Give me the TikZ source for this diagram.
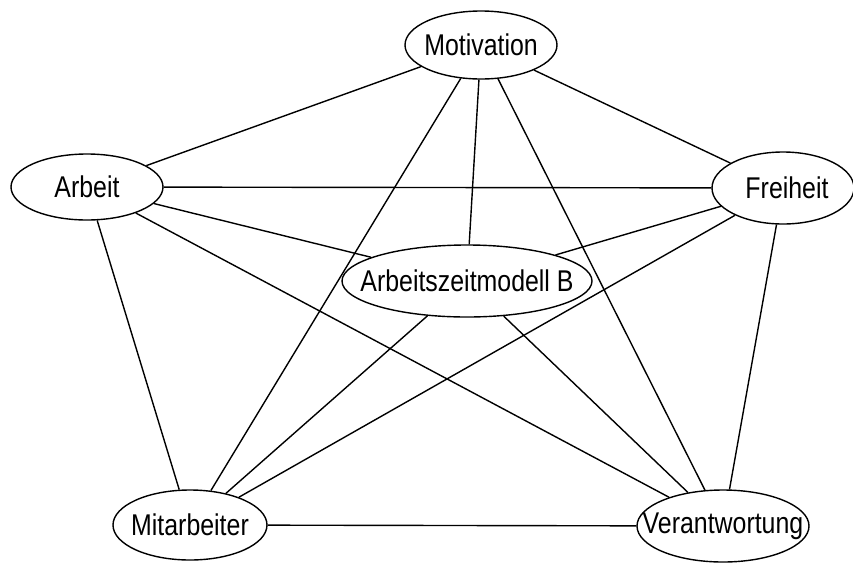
\documentclass[tikz,border=0pt]{standalone}
\usepackage{fontspec}
\setmainfont{Liberation Sans}[FakeStretch=0.83]
\usetikzlibrary{shapes.geometric}
\begin{document}
\begin{tikzpicture}[x=1pt,y=-1pt,
  ell/.style={draw, ellipse, line width=1.4pt, inner sep=0pt, font=\fontsize{30}{32}\selectfont, fill=white},
  conn/.style={line width=1.4pt}]
\useasboundingbox (0,0) rectangle (853,563);
\node[ell, minimum width=152pt, minimum height=68pt] (mot) at (481,45) {\makebox[0pt]{\raisebox{-3pt}{Motivation}}};
\node[ell, minimum width=152pt, minimum height=66pt] (arb) at (87,187) {\makebox[0pt]{\raisebox{-3pt}{Arbeit}}};
\node[ell, minimum width=142pt, minimum height=72pt] (fre) at (783,188) {\makebox[0pt]{\hspace{8pt}\raisebox{-3pt}{Freiheit}}};
\node[ell, minimum width=250pt, minimum height=72pt] (azm) at (467,281) {\makebox[0pt]{\raisebox{-3pt}{Arbeitszeitmodell B}}};
\node[ell, minimum width=154pt, minimum height=70pt] (mit) at (190,525) {\makebox[0pt]{\raisebox{-3pt}{Mitarbeiter}}};
\node[ell, minimum width=172pt, minimum height=72pt] (ver) at (723,526) {\makebox[0pt]{\raisebox{-3pt}{Verantwortung}}};
\foreach \a/\b in {mot/arb, mot/fre, mot/mit, mot/azm, mot/ver, arb/fre, arb/azm, arb/mit, arb/ver, fre/azm, fre/mit, fre/ver, azm/mit, azm/ver, mit/ver}
  \draw[conn] (\a) -- (\b);
\end{tikzpicture}
\end{document}
